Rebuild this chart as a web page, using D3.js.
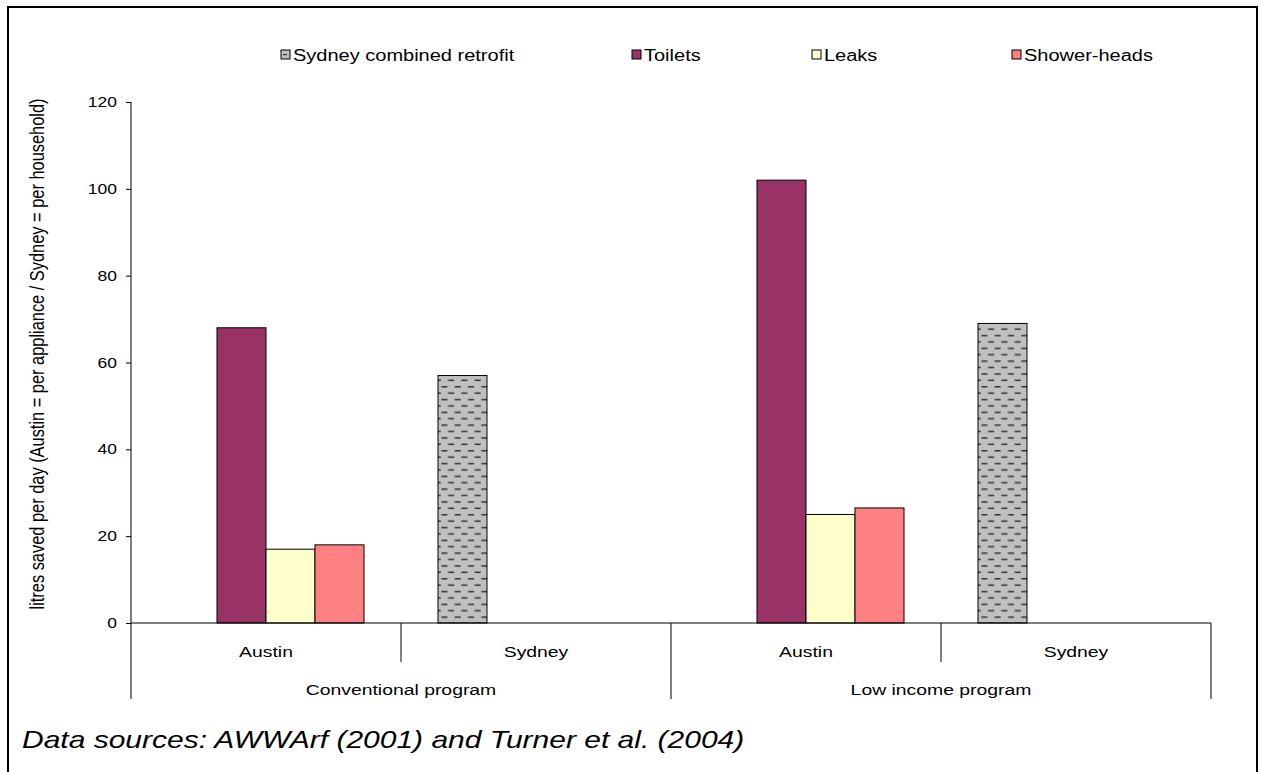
<!DOCTYPE html>
<html>
<head>
<meta charset="utf-8">
<script src="https://cdn.jsdelivr.net/npm/d3@7"></script>
<style>
  body { margin: 0; background: #fff; }
  svg { display: block; font-family: 'Liberation Sans', Arial, sans-serif; }
</style>
</head>
<body>
<div id="chart"></div>
<script>
// chart data
const programs = ['Conventional program', 'Low income program'];
const cities = ['Austin', 'Sydney'];
const seriesNames = ['Sydney combined retrofit', 'Toilets', 'Leaks', 'Shower-heads'];
// values per program / city, order follows seriesNames (null = no bar)
const conventionalAustin = [null, 68, 17, 18];
const conventionalSydney = [57, null, null, null];
const lowIncomeAustin = [null, 102, 25, 26.5];
const lowIncomeSydney = [69, null, null, null];
const yTicks = [0, 20, 40, 60, 80, 100, 120];

const seriesFill = ['url(#dashes)', '#993366', '#ffffcc', '#ff8080'];
const stretch = 1.25; // reference text is drawn a bit wide

const width = 1263, height = 772;
const margin = { top: 102, left: 131, right: 52, bottom: 149 };

const svg = d3.select('#chart').append('svg')
  .attr('width', width)
  .attr('height', height);

// dashed grey pattern for the Sydney bars
const pat = svg.append('defs').append('pattern')
  .attr('id', 'dashes')
  .attr('patternUnits', 'userSpaceOnUse')
  .attr('width', 13.3)
  .attr('height', 12.8);
pat.append('rect').attr('width', 13.3).attr('height', 12.8).attr('fill', '#c0c0c0');
pat.append('rect').attr('x', 0.5).attr('y', 2).attr('width', 6).attr('height', 1.5).attr('fill', '#333');
pat.append('rect').attr('x', 7.2).attr('y', 8.4).attr('width', 6).attr('height', 1.5).attr('fill', '#333');

// outer frame
svg.append('rect')
  .attr('x', 8).attr('y', 7)
  .attr('width', 1249).attr('height', 790)
  .attr('fill', 'none')
  .attr('stroke', '#000')
  .attr('stroke-width', 2);

// helper for stretched text
function label(g, x, y, txt, size, anchor, extra) {
  return g.append('text')
    .attr('transform', `translate(${x},${y}) scale(${stretch},1)` + (extra || ''))
    .attr('font-size', size)
    .attr('text-anchor', anchor)
    .attr('fill', '#000')
    .text(txt);
}

const rows = [
  { program: programs[0], city: cities[0], values: conventionalAustin },
  { program: programs[0], city: cities[1], values: conventionalSydney },
  { program: programs[1], city: cities[0], values: lowIncomeAustin },
  { program: programs[1], city: cities[1], values: lowIncomeSydney },
];
rows.forEach((r, i) => { r.key = i; });

const x0 = d3.scaleBand()
  .domain(rows.map(r => r.key))
  .range([margin.left, width - margin.right]);

const x1 = d3.scaleBand()
  .domain(seriesNames)
  .range([0, x0.bandwidth()])
  .paddingInner(0)
  .paddingOuter(0.755);

const y = d3.scaleLinear()
  .domain([0, 120])
  .range([height - margin.bottom, margin.top]);

const y0 = y(0);

// bars
const groups = svg.append('g').selectAll('g')
  .data(rows)
  .enter().append('g')
  .attr('transform', d => `translate(${x0(d.key)},0)`);

groups.selectAll('rect')
  .data(d => d.values.map((v, j) => ({ name: seriesNames[j], v: v, j: j })).filter(e => e.v != null))
  .enter().append('rect')
  .attr('x', d => x1(d.name))
  .attr('y', d => y(d.v))
  .attr('width', x1.bandwidth())
  .attr('height', d => y0 - y(d.v))
  .attr('fill', d => seriesFill[d.j])
  .attr('stroke', '#000')
  .attr('stroke-width', 1);

// y axis
const yAxis = svg.append('g')
  .attr('transform', `translate(${margin.left},0)`)
  .call(d3.axisLeft(y).tickValues(yTicks).tickSize(5).tickFormat(d3.format('d')));
yAxis.select('.domain').remove();
yAxis.selectAll('.tick line').attr('stroke', '#000');
yAxis.selectAll('.tick text').remove();
yTicks.forEach(t => label(svg, margin.left - 14, y(t) + 5, t, 14, 'end'));

svg.append('line')
  .attr('x1', margin.left).attr('x2', margin.left)
  .attr('y1', margin.top).attr('y2', 699)
  .attr('stroke', '#000');

// category axis
svg.append('line')
  .attr('x1', margin.left).attr('x2', width - margin.right)
  .attr('y1', y0).attr('y2', y0)
  .attr('stroke', '#000');

rows.forEach((r, i) => {
  const xr = x0(r.key) + x0.bandwidth();
  const long = (i % 2 === 1);
  svg.append('line')
    .attr('x1', xr).attr('x2', xr)
    .attr('y1', y0).attr('y2', long ? 699 : 662)
    .attr('stroke', '#000');
  label(svg, x0(r.key) + x0.bandwidth() / 2, 657, r.city, 15.5, 'middle');
});

programs.forEach((p, i) => {
  const cx = (x0(i * 2) + x0(i * 2 + 1) + x0.bandwidth()) / 2;
  label(svg, cx, 695, p, 15.5, 'middle');
});

// y axis title
label(svg, 44, 354, 'litres saved per day (Austin = per appliance / Sydney = per household)', 16.4, 'middle', ' rotate(-90)');

// legend
const legendX = [281, 632, 812, 1012];
seriesNames.forEach((s, i) => {
  svg.append('rect')
    .attr('x', legendX[i]).attr('y', 50)
    .attr('width', 9).attr('height', 9)
    .attr('fill', i === 0 ? '#c0c0c0' : seriesFill[i])
    .attr('stroke', '#000');
  if (i === 0) {
    svg.append('rect').attr('x', legendX[i] + 2).attr('y', 54).attr('width', 4).attr('height', 1.2).attr('fill', '#333');
  }
  label(svg, legendX[i] + 12, 61, s, 16, 'start');
});

// source note
label(svg, 22, 748, 'Data sources: AWWArf (2001) and Turner et al. (2004)', 24, 'start').attr('font-style', 'italic');
</script>
</body>
</html>
